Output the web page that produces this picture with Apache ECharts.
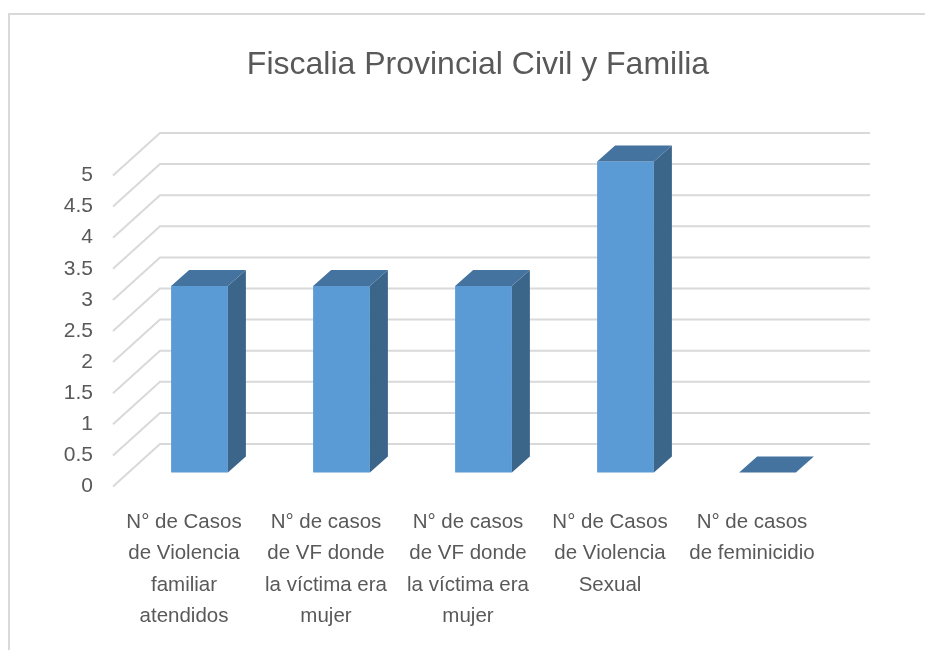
<!DOCTYPE html>
<html>
<head>
<meta charset="utf-8">
<script src="https://cdn.jsdelivr.net/npm/echarts@6/dist/echarts.min.js"></script>
<style>
html,body{margin:0;padding:0;background:#fff;}
#frame{position:absolute;left:8px;top:13px;width:940px;height:660px;border-left:2px solid #d9d9d9;border-top:2px solid #d9d9d9;box-sizing:border-box;}
#chart{position:absolute;left:0;top:0;width:925px;height:650px;}
</style>
</head>
<body>
<div id="frame"></div>
<div id="chart"></div>
<script>
const titleText = 'Fiscalia Provincial Civil y Familia';
const categories = [
  'N° de Casos\nde Violencia\nfamiliar\natendidos',
  'N° de casos\nde VF donde\nla víctima era\nmujer',
  'N° de casos\nde VF donde\nla víctima era\nmujer',
  'N° de Casos\nde Violencia\nSexual',
  'N° de casos\nde feminicidio'
];
const values = [3, 3, 3, 5, 0];
const yTicks = [0, 0.5, 1, 1.5, 2, 2.5, 3, 3.5, 4, 4.5, 5];

const FONT = '"Liberation Sans Narrow", "Liberation Sans", Roboto, sans-serif';
// 3D projection offsets (pixels)
const WALL_DX = 47, WALL_DY = -42.5;   // front floor edge -> back wall
const BAR_DX = 15.5, BAR_DY = -14;     // front floor edge -> bar front face
const DEPTH_DX = 18, DEPTH_DY = -16;   // bar depth

const chart = echarts.init(document.getElementById('chart'), null, {renderer: 'canvas'});

const option = {
  animation: false,
  title: {
    text: titleText,
    left: 473, top: 44, textAlign: 'center',
    textStyle: {fontFamily: FONT, fontSize: 32, fontWeight: 'normal', color: '#595959'}
  },
  grid: {left: 113, top: 175.5, width: 710, height: 311},
  xAxis: {
    type: 'category',
    data: categories,
    axisLine: {show: false},
    axisTick: {show: false},
    axisLabel: {
      interval: 0, margin: 20,
      fontFamily: FONT, fontSize: 20.5, color: '#595959', lineHeight: 31.5, align: 'center'
    }
  },
  yAxis: {
    type: 'value', min: 0, max: 5, interval: 0.5,
    axisLine: {show: false}, axisTick: {show: false},
    splitLine: {show: false},
    axisLabel: {margin: 20, fontFamily: FONT, fontSize: 21, color: '#595959'}
  },
  series: [
    {
      type: 'custom',
      z: 1,
      silent: true,
      data: yTicks.map(v => [0, v]),
      encode: {x: 0, y: 1},
      renderItem: function (params, api) {
        const cs = params.coordSys;
        const p = api.coord([0, api.value(1)]);
        const y = p[1];
        const x0 = cs.x;
        return {
          type: 'polyline',
          shape: {points: [[x0, y], [x0 + WALL_DX, y + WALL_DY], [x0 + cs.width + WALL_DX, y + WALL_DY]]},
          style: {stroke: '#d9d9d9', lineWidth: 2, fill: null}
        };
      }
    },
    {
      type: 'custom',
      z: 2,
      data: values.map((v, i) => [i, v]),
      encode: {x: 0, y: 1},
      renderItem: function (params, api) {
        const i = api.value(0), v = api.value(1);
        const top = api.coord([i, v]);
        const bot = api.coord([i, 0]);
        const w = api.size([1, 0])[0] * 0.4;
        const xl = top[0] - w / 2 + BAR_DX, xr = top[0] + w / 2 + BAR_DX;
        const yt = top[1] + BAR_DY, yb = bot[1] + BAR_DY;
        const children = [];
        if (yb - yt > 0.5) {
          children.push({
            type: 'rect', shape: {x: xl, y: yt, width: xr - xl, height: yb - yt},
            style: {fill: '#5b9bd5'}
          });
          children.push({
            type: 'polygon',
            shape: {points: [[xr, yt], [xr + DEPTH_DX, yt + DEPTH_DY], [xr + DEPTH_DX, yb + DEPTH_DY], [xr, yb]]},
            style: {fill: '#3b6589'}
          });
        }
        children.push({
          type: 'polygon',
          shape: {points: [[xl, yt], [xl + DEPTH_DX, yt + DEPTH_DY], [xr + DEPTH_DX, yt + DEPTH_DY], [xr, yt]]},
          style: {fill: '#44739f'}
        });
        return {type: 'group', children: children};
      }
    }
  ]
};
chart.setOption(option);
</script>
</body>
</html>
